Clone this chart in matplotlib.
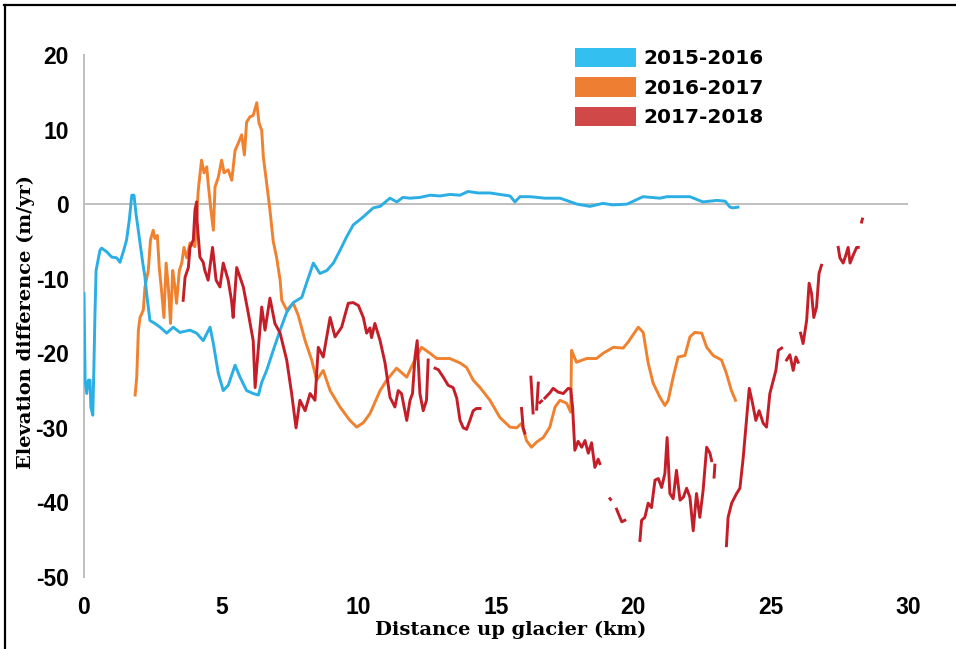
import numpy as np
import matplotlib.pyplot as plt
from matplotlib.patches import Patch
from matplotlib.lines import Line2D

plt.rcParams['axes.unicode_minus'] = False

# elevation change profiles along the glacier centreline
# distance in km, elevation difference in m/yr, nan = gap in the profile
x_1516 = [0.00, 0.04, 0.10, 0.16, 0.22, 0.25, 0.32, 0.36, 0.40, 0.44, 0.58, 0.64,
          0.83, 1.01, 1.19, 1.31, 1.43, 1.55, 1.65, 1.74, 1.82, 1.89, 2.01, 2.14,
          2.22, 2.28, 2.40, 2.58, 2.77, 3.01, 3.25, 3.49, 3.86, 4.10, 4.34, 4.59,
          4.71, 4.89, 5.07, 5.25, 5.50, 5.68, 5.92, 6.16, 6.35, 6.47, 6.65, 6.89,
          7.14, 7.38, 7.62, 7.93, 8.11, 8.35, 8.59, 8.84, 9.08, 9.32, 9.56, 9.80,
          10.17, 10.53, 10.78, 11.14, 11.39, 11.61, 11.87, 12.23, 12.60, 12.96,
          13.32, 13.69, 13.98, 14.34, 14.78, 15.14, 15.51, 15.69, 15.87, 16.24,
          16.78, 17.33, 17.95, 18.42, 18.89, 19.26, 19.77, 20.35, 20.97, 21.22,
          22.06, 22.53, 23.04, 23.34, 23.52, 23.63, 23.81]
y_1516 = [-12.0, -23.6, -25.4, -23.6, -23.6, -27.2, -28.3, -21.9, -14.6, -8.9, -6.2, -5.9,
          -6.4, -7.1, -7.2, -7.8, -6.4, -4.8, -2.1, 1.2, 1.2, -1.2, -4.4, -7.9,
          -9.8, -12.0, -15.6, -16.0, -16.5, -17.3, -16.5, -17.2, -16.9, -17.3, -18.3, -16.5,
          -18.7, -22.7, -25.0, -24.3, -21.6, -23.2, -25.0, -25.4, -25.6, -23.9, -22.3, -19.6,
          -16.9, -14.5, -13.2, -12.5, -10.5, -7.9, -9.3, -8.9, -7.9, -6.2, -4.4, -2.8,
          -1.7, -0.5, -0.3, 0.8, 0.3, 0.9, 0.8, 0.9, 1.2, 1.1,
          1.3, 1.2, 1.7, 1.5, 1.5, 1.3, 1.1, 0.3, 1.0, 1.0,
          0.8, 0.8, 0.0, -0.3, 0.1, -0.1, 0.0, 1.0, 0.8, 1.0,
          1.0, 0.3, 0.5, 0.4, -0.4, -0.5, -0.4]

x_1617 = [1.86, 1.92, 1.98, 2.04, 2.16, 2.22, 2.34, 2.42, 2.52, 2.58, 2.67, 2.74,
          2.82, 2.91, 2.99, 3.07, 3.15, 3.23, 3.31, 3.37, 3.47, 3.56, 3.64, 3.74,
          3.86, 4.04, 4.16, 4.28, 4.37, 4.47, 4.52, 4.61, 4.71, 4.77, 4.89, 5.01,
          5.10, 5.25, 5.38, 5.50, 5.62, 5.74, 5.84, 5.92, 6.04, 6.16, 6.29, 6.37,
          6.47, 6.53, 6.65, 6.77, 6.89, 7.01, 7.14, 7.20, 7.38, 7.62, 7.80, 8.05,
          8.29, 8.47, 8.71, 8.96, 9.32, 9.68, 9.93, 10.17, 10.41, 10.78, 11.02, 11.38,
          11.75, 11.99, 12.29, 12.60, 12.84, 13.32, 13.69, 13.93, 14.17, 14.42, 14.78, 15.14,
          15.51, 15.75, 15.93, 16.11, 16.29, 16.48, 16.72, 16.96, 17.15, 17.33, 17.57, 17.72,
          17.75, 17.93, 18.30, 18.66, 18.90, 19.27, 19.63, 19.81, 19.94, 20.18, 20.36, 20.54,
          20.72, 20.97, 21.15, 21.27, 21.45, 21.63, 21.88, 22.06, 22.24, 22.49, 22.67, 22.91,
          23.21, 23.39, 23.57, 23.72]
y_1617 = [-25.6, -23.2, -16.9, -15.2, -14.2, -11.1, -8.9, -4.8, -3.5, -4.6, -4.2, -8.5,
          -11.5, -15.2, -7.9, -11.1, -16.0, -8.9, -11.1, -13.3, -8.9, -7.9, -5.8, -7.2,
          -5.2, -5.7, 1.9, 5.9, 4.2, 5.0, 2.8, -0.4, -3.5, 2.3, 3.6, 5.9,
          4.2, 4.6, 3.2, 7.2, 8.2, 9.3, 6.6, 11.0, 11.7, 11.9, 13.6, 10.9,
          9.9, 6.3, 2.8, -0.8, -5.0, -7.1, -10.2, -12.9, -14.2, -13.3, -14.9, -18.3,
          -20.9, -23.6, -22.3, -25.0, -27.2, -29.0, -29.9, -29.3, -28.1, -25.0, -23.6, -22.0,
          -23.2, -21.3, -19.2, -20.0, -20.7, -20.7, -21.3, -21.9, -23.6, -24.6, -26.3, -28.6,
          -29.9, -30.0, -29.4, -31.7, -32.6, -31.9, -31.3, -29.9, -27.2, -26.3, -26.7, -27.9,
          -19.6, -21.2, -20.7, -20.7, -20.0, -19.2, -19.3, -18.5, -17.8, -16.5, -17.2, -21.3,
          -24.0, -25.9, -27.0, -26.3, -23.2, -20.5, -20.3, -17.8, -17.2, -17.3, -19.2, -20.3,
          -20.9, -22.7, -25.0, -26.3]

nan = np.nan
x_1718 = [3.61, 3.68, 3.80, 3.86, 3.98, 4.04, 4.10, 4.12, 4.22, 4.34, 4.40, 4.52,
          4.68, 4.81, 4.95, 5.07, 5.25, 5.37, 5.43, 5.56, 5.80, 5.98, 6.16, 6.23,
          6.35, 6.47, 6.59, 6.77, 6.95, 7.14, 7.38, 7.56, 7.72, 7.86, 8.05, 8.23,
          8.41, 8.53, 8.71, 8.96, 9.14, 9.38, 9.62, 9.80, 9.99, 10.17, 10.29, 10.41,
          10.47, 10.59, 10.78, 10.96, 11.14, 11.32, 11.44, 11.56, 11.75, 11.87, 11.96, 12.05,
          12.13, 12.23, 12.35, 12.47, 12.53, nan,
          12.78, 12.90, 13.08, 13.26, 13.44, 13.57, 13.69, 13.81, 13.93, 14.05, 14.17, 14.29,
          14.42, nan,
          15.93, 15.99, 16.05, nan,
          16.27, 16.35, nan,
          16.54, 16.48, nan,
          16.60, 16.66, nan,
          16.78, 16.96, 17.08, 17.26, 17.45, 17.63, 17.72, 17.79, 17.87, 17.99, 18.12, 18.24,
          18.36, 18.48, 18.60, 18.72, 18.78, nan,
          19.15, 19.17, nan,
          19.39, 19.51, 19.58, 19.69, nan,
          20.24, 20.30, 20.42, 20.54, 20.66, 20.79, 20.91, 21.03, 21.15, 21.23, 21.33, 21.45,
          21.57, 21.70, 21.82, 21.94, 22.06, 22.18, 22.30, 22.42, 22.54, 22.67, 22.79, 22.85,
          nan,
          22.97, 22.94, nan,
          23.39, 23.45, 23.58, 23.76, 23.88, 24.00, 24.12, 24.22, 24.34, 24.46, 24.58, 24.73,
          24.85, 24.97, 25.07, 25.19, 25.28, 25.40, nan,
          25.58, 25.70, 25.82, 25.92, 26.00, nan,
          26.09, 26.18, 26.31, 26.40, 26.49, 26.57, 26.67, 26.76, 26.85, nan,
          27.46, 27.52, 27.64, 27.74, 27.82, 27.89, 28.01, 28.13, 28.19, nan,
          28.31, 28.34]
y_1718 = [-12.9, -9.8, -8.5, -5.8, -4.8, -0.8, 0.3, -2.4, -7.1, -7.8, -8.9, -10.2,
          -5.8, -10.2, -11.1, -7.9, -10.2, -12.9, -15.2, -8.5, -11.1, -14.6, -18.3, -24.6,
          -19.2, -13.8, -16.9, -12.6, -16.0, -17.3, -20.9, -25.4, -30.0, -26.3, -27.7, -25.4,
          -26.3, -19.2, -20.5, -15.2, -17.8, -16.5, -13.3, -13.2, -13.6, -15.2, -17.3, -16.6,
          -17.9, -16.0, -18.3, -21.3, -25.9, -27.2, -25.0, -25.4, -29.0, -26.3, -25.4, -20.5,
          -18.3, -25.4, -27.7, -26.3, -20.9, nan,
          -22.0, -22.2, -23.2, -24.3, -24.6, -26.0, -29.0, -30.0, -30.2, -29.0, -27.7, -27.4,
          -27.4, nan,
          -27.4, -30.0, -30.7, nan,
          -23.2, -28.0, nan,
          -24.0, -27.5, nan,
          -26.6, -26.4, nan,
          -26.0, -25.3, -24.7, -25.2, -25.4, -24.7, -24.8, -27.3, -33.0, -31.8, -32.6, -31.7,
          -33.4, -32.0, -35.3, -34.2, -34.8, nan,
          -39.5, -39.6, nan,
          -40.9, -42.0, -42.6, -42.4, nan,
          -45.1, -42.4, -42.0, -40.1, -40.7, -37.0, -36.8, -38.0, -36.1, -31.3, -38.8, -39.5,
          -35.7, -39.7, -39.3, -38.1, -39.3, -43.8, -38.8, -42.0, -38.4, -32.6, -33.4, -34.4,
          nan,
          -35.0, -36.6, nan,
          -45.8, -42.0, -40.1, -38.8, -38.1, -34.0, -29.0, -24.7, -26.7, -29.0, -27.7, -29.4,
          -29.9, -25.4, -24.0, -22.3, -19.6, -19.3, nan,
          -20.9, -20.2, -22.3, -20.5, -21.2, nan,
          -17.3, -18.7, -15.6, -10.6, -12.0, -15.2, -13.8, -9.3, -8.2, nan,
          -5.8, -7.2, -7.9, -6.8, -5.8, -7.9, -6.8, -5.8, -5.8, nan,
          -2.4, -2.0]

labels = ['2015-2016', '2016-2017', '2017-2018']
line_colors = ['#2BAEE4', '#F0812F', '#C41E28']
key_colors = ['#33BFEF', '#EE7E32', '#D14849']
x_ticks = [0, 5, 10, 15, 20, 25, 30]
y_ticks = [20, 10, 0, -10, -20, -30, -40, -50]

tick_font = ['Liberation Sans', 'DejaVu Sans']
label_font = ['DejaVu Serif']

fig = plt.figure(figsize=(9.56, 6.49), dpi=100)
ax = fig.add_axes([84 / 956, 1 - 577 / 649, 824 / 956, 522 / 649])

ax.axhline(0, color='#BFBFBF', lw=1.4, zorder=1)
ax.plot(x_1516, y_1516, color=line_colors[0], lw=2.1, zorder=3)
ax.plot(x_1617, y_1617, color=line_colors[1], lw=2.1, zorder=2)
ax.plot(x_1718, y_1718, color=line_colors[2], lw=2.1, zorder=4)

ax.set_xlim(0, 30)
ax.set_ylim(-50, 20)
ax.set_xticks(x_ticks)
ax.set_yticks(y_ticks)
for s in ['top', 'right', 'bottom']:
    ax.spines[s].set_visible(False)
ax.spines['left'].set_color('#BFBFBF')
ax.spines['left'].set_linewidth(1.4)
ax.tick_params(length=0)
ax.tick_params(axis='x', pad=14)
ax.tick_params(axis='y', pad=11)
for t in ax.get_xticklabels() + ax.get_yticklabels():
    t.set_family(tick_font)
    t.set_fontweight('bold')
    t.set_fontsize(16.5)

fig.text(511 / 956, 1 - 630 / 649, 'Distance up glacier (km)', family=label_font,
         fontweight='bold', fontsize=14, ha='center', va='center')
fig.text(26 / 956, 1 - 322 / 649, 'Elevation difference (m/yr)', family=label_font,
         fontweight='bold', fontsize=14, ha='center', va='center', rotation=90)

# colour key
handles = [Patch(facecolor=c, edgecolor='none') for c in key_colors]
ax.legend(handles, labels, loc='upper left', bbox_to_anchor=(575 / 956, 1 - 48 / 649),
          bbox_transform=fig.transFigure, frameon=False, borderpad=0, borderaxespad=0,
          handlelength=3.05, handleheight=1.1, handletextpad=0.35, labelspacing=0.45,
          prop={'family': 'DejaVu Sans', 'weight': 'bold', 'size': 14.4})

# border round the figure
fig.add_artist(Line2D([4 / 956, 1], [1 - 4.5 / 649, 1 - 4.5 / 649], color='black', lw=1.6))
fig.add_artist(Line2D([4.5 / 956, 4.5 / 956], [0, 1 - 4.5 / 649], color='black', lw=1.6))

fig.savefig('out.png', dpi=100)
